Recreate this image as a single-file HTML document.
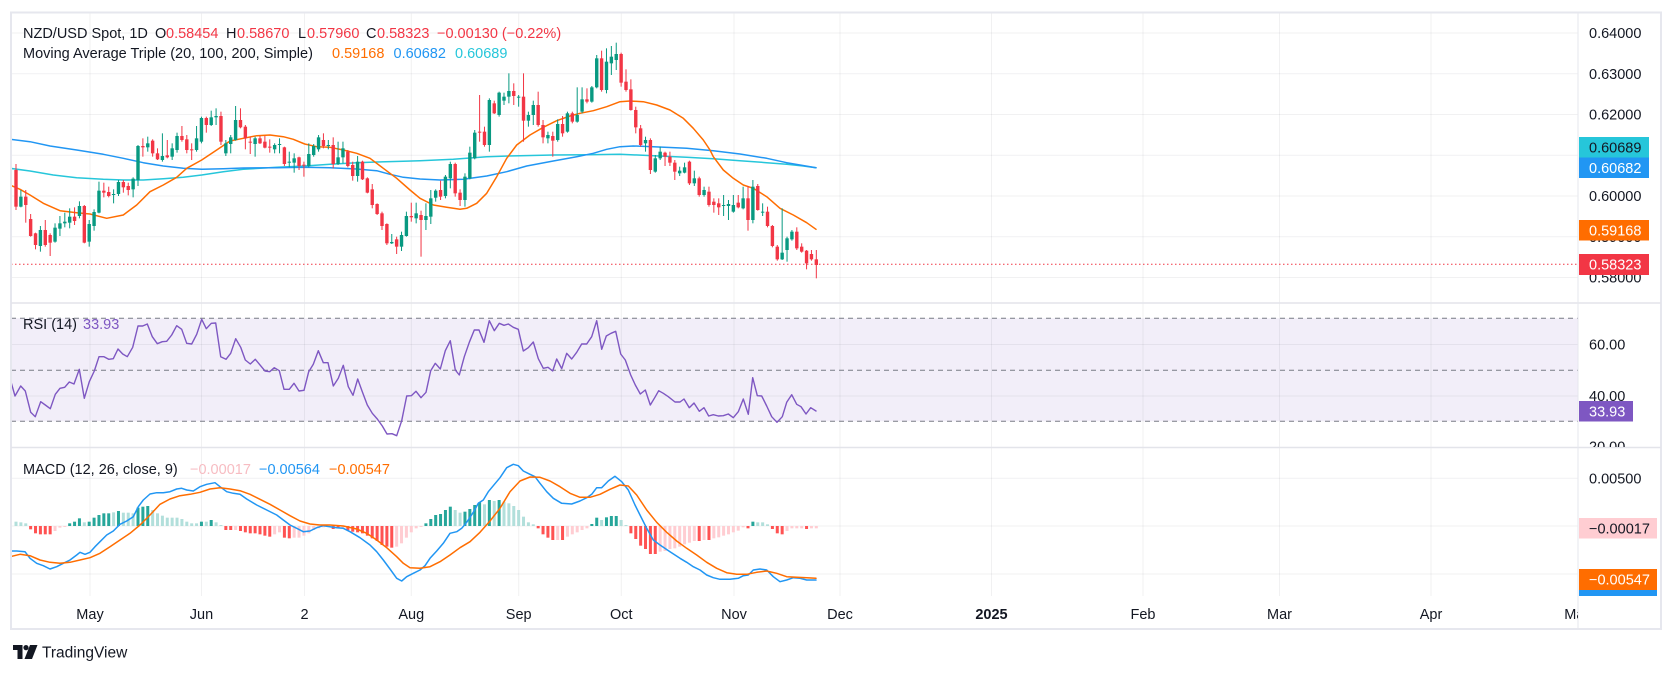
<!DOCTYPE html>
<html><head><meta charset="utf-8">
<style>
html,body{margin:0;padding:0;background:#fff;}
svg{display:block;font-family:"Liberation Sans",sans-serif;}
</style></head>
<body>
<svg id="c" width="1674" height="674" viewBox="0 0 1674 674" xmlns="http://www.w3.org/2000/svg">
<defs>
<clipPath id="pp"><rect x="11" y="12" width="1567" height="291"/></clipPath>
<clipPath id="rp"><rect x="11" y="303" width="1567" height="144"/></clipPath>
<clipPath id="mp"><rect x="11" y="448" width="1567" height="148"/></clipPath>
<clipPath id="rax"><rect x="1578" y="304" width="84" height="143"/></clipPath>
<clipPath id="tax"><rect x="11" y="596" width="1567" height="33"/></clipPath>
</defs>
<rect width="1674" height="674" fill="#fff"/>
<!-- RSI band -->
<rect x="11" y="318.3" width="1567" height="103" fill="#f2eef9"/>
<g id="grid"></g>
<!-- RSI dashed -->
<g stroke="#787b86" stroke-width="1" stroke-dasharray="5,4">
<line x1="11" y1="318.3" x2="1578" y2="318.3"/>
<line x1="11" y1="370.3" x2="1578" y2="370.3"/>
<line x1="11" y1="421.3" x2="1578" y2="421.3"/>
</g>
<g id="price" clip-path="url(#pp)"></g>
<line x1="11" y1="264.3" x2="1578" y2="264.3" stroke="#f23645" stroke-width="1" stroke-dasharray="1.5,2.5"/>
<g id="rsi" clip-path="url(#rp)"></g>
<g id="macd" clip-path="url(#mp)"></g>

<!-- frame & separators -->
<rect x="11" y="12.5" width="1650" height="616.5" fill="none" stroke="#e6e7ee" stroke-width="2"/>
<line x1="11" y1="303" x2="1661" y2="303" stroke="#e3e4ea" stroke-width="1.5"/>
<line x1="11" y1="447.5" x2="1661" y2="447.5" stroke="#e3e4ea" stroke-width="1.5"/>
<line x1="1578" y1="12" x2="1578" y2="629" stroke="#e6e7ee" stroke-width="1"/>

<g font-size="14.5" fill="#131722">
<!-- legend price -->
<text x="23" y="38.2">NZD/USD Spot, 1D</text>
<text x="155" y="38.2">O</text><text x="166" y="38.2" fill="#f23645">0.58454</text>
<text x="226" y="38.2">H</text><text x="237" y="38.2" fill="#f23645">0.58670</text>
<text x="298" y="38.2">L</text><text x="307" y="38.2" fill="#f23645">0.57960</text>
<text x="366" y="38.2">C</text><text x="377" y="38.2" fill="#f23645">0.58323</text>
<text x="437" y="38.2" fill="#f23645">−0.00130 (−0.22%)</text>
<text x="23" y="58.2">Moving Average Triple (20, 100, 200, Simple)</text>
<text x="332" y="58.2" fill="#ff6d00">0.59168</text>
<text x="393.5" y="58.2" fill="#2196f3">0.60682</text>
<text x="455" y="58.2" fill="#26c6da">0.60689</text>
<!-- RSI legend -->
<text x="23" y="329.2">RSI (14)</text>
<text x="83" y="329.2" fill="#7e57c2">33.93</text>
<!-- MACD legend -->
<text x="23" y="474.2">MACD (12, 26, close, 9)</text>
<text x="190" y="474.2" fill="#f7bcc2">−0.00017</text>
<text x="259" y="474.2" fill="#2196f3">−0.00564</text>
<text x="329" y="474.2" fill="#ff6d00">−0.00547</text>

<!-- price axis -->
<text x="1589" y="38.2">0.64000</text>
<text x="1589" y="79">0.63000</text>
<text x="1589" y="119.7">0.62000</text>
<text x="1589" y="160.5">0.61000</text>
<text x="1589" y="201.2">0.60000</text>
<text x="1589" y="242">0.59000</text>
<text x="1589" y="282.7">0.58000</text>
<rect x="1579" y="137" width="70" height="20.5" fill="#26c6da"/>
<text x="1589" y="152.4">0.60689</text>
<rect x="1579" y="157.5" width="70" height="20.5" fill="#2196f3"/>
<text x="1589" y="172.9" fill="#fff">0.60682</text>
<rect x="1579" y="220" width="70" height="20.5" fill="#ff6d00"/>
<text x="1589" y="235.4" fill="#fff">0.59168</text>
<rect x="1579" y="254" width="70" height="21" fill="#f23645"/>
<text x="1589" y="269.6" fill="#fff">0.58323</text>

<!-- RSI axis -->
<g clip-path="url(#rax)">
<text x="1589" y="349.7">60.00</text>
<text x="1589" y="401.2">40.00</text>
<text x="1589" y="451.7">20.00</text>
</g>
<rect x="1579" y="401" width="54" height="20.5" fill="#7e57c2"/>
<text x="1589" y="416.4" fill="#fff">33.93</text>

<!-- MACD axis -->
<text x="1589" y="483.4">0.00500</text>
<rect x="1579" y="585" width="78" height="11" fill="#2196f3"/>
<rect x="1579" y="518" width="78" height="20.5" fill="#ffcdd2"/>
<text x="1589" y="533.4">−0.00017</text>
<rect x="1579" y="569" width="78" height="21" fill="#ff6d00"/>
<text x="1589" y="584.6" fill="#fff">−0.00547</text>

<!-- time axis -->
<g text-anchor="middle" clip-path="url(#tax)">
<text x="90" y="619.2">May</text>
<text x="201.5" y="619.2">Jun</text>
<text x="304.5" y="619.2">2</text>
<text x="411.3" y="619.2">Aug</text>
<text x="518.7" y="619.2">Sep</text>
<text x="621.3" y="619.2">Oct</text>
<text x="734" y="619.2">Nov</text>
<text x="840" y="619.2">Dec</text>
<text x="991.5" y="619.2" font-weight="bold">2025</text>
<text x="1143" y="619.2">Feb</text>
<text x="1279.5" y="619.2">Mar</text>
<text x="1431" y="619.2">Apr</text>
<text x="1578" y="619.2">May</text>
</g>
</g>

<!-- TradingView logo -->
<g fill="#131722">
<path d="M13,645 H22.5 V659 H17.5 V650 H13 Z"/>
<circle cx="26" cy="647.6" r="2.6"/>
<path d="M30,645 H37.5 L32,659 H24.5 Z"/>
<text x="42" y="657.5" font-size="15.5">TradingView</text>
</g>
</svg>
<script>
(function(){
var NS="http://www.w3.org/2000/svg";
function el(p,t,a){var e=document.createElementNS(NS,t);for(var k in a)e.setAttribute(k,a[k]);p.appendChild(e);return e;}
function conv(arr,x0,y0){var r=[];for(var i=0;i<arr.length;i+=2)r.push([x0+arr[i]/3,y0+arr[i+1]/3]);return r;}
function poly(g,pts,col,w){el(g,'polyline',{points:pts.map(function(p){return p[0].toFixed(1)+','+p[1].toFixed(1);}).join(' '),fill:'none',stroke:col,'stroke-width':w,'stroke-linejoin':'round','stroke-linecap':'round'});}

// grid
var grid=document.getElementById('grid');
var gc='rgba(42,46,57,0.065)';
[90,201.5,304.5,411.3,518.7,621.3,734,840,991.5,1143,1279.5,1431].forEach(function(x){el(grid,'line',{x1:x,y1:13,x2:x,y2:596,stroke:gc,'stroke-width':1});});
for(var k=0;k<7;k++){var y=33+k*40.75;el(grid,'line',{x1:11,y1:y,x2:1578,y2:y,stroke:gc,'stroke-width':1});}
[344.5,396].forEach(function(y){el(grid,'line',{x1:11,y1:y,x2:1578,y2:y,stroke:gc,'stroke-width':1});});
[478.3,526,574].forEach(function(y){el(grid,'line',{x1:11,y1:y,x2:1578,y2:y,stroke:gc,'stroke-width':1});});

// MAs
var price=document.getElementById('price');
var O6=[0,285,30,298,60,315,100,340,150,362,200,368,240,372,290,385,340,375,380,345,420,305,460,285,500,262,530,235,575,210,620,180,660,153,700,145,740,137,780,135,820,140,850,148,884,162,920,170,960,172,1000,180,1040,190,1080,205,1120,235,1160,265,1200,300];
var O7=[0,505,40,525,80,532,120,538,140,535,170,520,200,490,230,440,260,385,290,345,330,315,370,292,410,272,450,258,480,250,520,242,560,230,600,215,630,213,670,215,710,225,750,240,790,265,820,295,850,330,870,360,880,380,910,420,940,445,970,465,1000,475,1040,500,1080,535,1120,555,1160,578,1188,598];
var B6=[0,148,60,155,120,168,200,180,280,193,340,205,400,218,460,228,520,235,575,238,640,236,700,234,800,233,884,232,960,233,1040,237,1100,242,1140,253,1180,262];
var B7=[0,447,60,450,130,448,200,438,260,425,320,408,400,393,470,380,520,370,560,358,600,350,640,348,700,350,800,355,880,362,960,372,1040,385,1100,398,1140,405,1188,413];
var C6=[0,235,60,243,130,255,200,263,280,268,340,270,400,270,460,266,520,262,575,255,640,245,700,238,800,232,884,228,960,223,1040,218,1100,216,1180,214];
var C7=[0,392,100,388,200,380,300,377,400,375,500,374,600,373,700,377,800,382,880,386,960,392,1040,398,1100,403,1150,408,1188,413];
poly(price,conv(C6,10,90).concat(conv(C7,420,30)),'#26c6da',1.5);
poly(price,conv(B6,10,90).concat(conv(B7,420,30)),'#2196f3',1.5);
poly(price,conv(O6,10,90).concat(conv(O7,420,30)),'#ff6d00',1.5);

// candles
var A=[[0,240,350,222,360],[1,320,350,300,352],[0,320,345,300,398],[0,387,438,372,440],[0,430,465,428,478],[1,420,468,408,485],[0,420,465,390,470],[0,435,458,430,498],[1,413,455,400,458],[1,400,416,378,438],[1,395,400,368,412],[1,380,398,355,415],[0,380,393,352,405],[1,348,378,334,385],[0,348,458,345,460],[1,402,455,390,470],[1,366,408,358,422],[1,302,368,275,370],[0,302,308,278,322],[0,306,318,290,322],[1,312,315,298,340],[1,276,312,270,318],[0,276,292,270,308],[0,288,300,278,316],[1,266,298,262,322],[1,168,270,165,288],[0,168,172,145,200],[1,160,172,140,185],[0,152,190,148,200],[0,190,208,175,210],[1,198,210,130,215],[0,196,202,150,205],[1,175,200,160,210],[1,138,180,128,188],[0,138,150,108,155],[0,148,180,135,190],[0,178,180,160,210],[1,145,180,108,185],[1,84,155,80,160],[0,84,105,80,128],[1,82,105,62,108],[1,78,82,55,105],[0,78,155,65,165],[1,160,190,150,198],[1,142,162,135,190],[1,90,150,48,152],[0,90,112,55,115],[0,110,145,105,178],[0,155,158,140,192],[1,145,162,140,200],[0,145,160,138,162],[0,155,173,138,175],[0,170,173,148,188],[1,165,178,160,190],[1,162,165,145,190],[0,172,222,170,228],[1,215,218,185,232],[1,205,218,190,248],[0,202,228,200,240],[0,224,226,215,260],[1,192,228,160,232],[1,168,195,162,200],[1,142,178,135,185],[0,150,168,130,175],[1,165,167,150,178],[0,165,222,142,235],[1,202,222,155,225],[1,175,202,155,220],[0,185,228,180,232],[0,225,258,215,272],[1,215,258,198,275],[0,215,268,212,270],[0,265,308,262,310],[0,298,345,282,355],[0,342,372,340,375],[0,370,408,365,420],[0,402,460,400,465],[1,456,460,432,462],[0,448,470,440,492],[1,435,470,425,483],[1,378,438,365,440],[0,378,382,338,395],[1,370,385,338,400],[0,375,390,362,500],[1,378,390,340,420]];
var B=[[1,505,560,480,582],[1,482,503,478,515],[0,480,500,452,510],[1,440,498,435,505],[1,402,445,395,475],[0,402,490,398,500],[0,488,510,478,528],[1,440,510,430,530],[1,368,445,350,448],[1,308,385,300,388],[0,305,307,195,335],[0,305,345,290,350],[1,210,345,205,365],[0,220,250,212,252],[1,188,255,185,260],[1,200,212,188,225],[1,183,200,130,220],[0,183,198,160,225],[1,200,202,195,230],[0,200,272,130,335],[1,255,272,245,290],[1,225,255,212,285],[0,225,285,185,290],[0,285,322,270,340],[1,315,325,305,340],[0,318,332,305,380],[1,282,330,268,335],[0,282,310,258,320],[1,250,305,245,308],[0,250,275,245,280],[1,255,275,172,278],[1,208,245,172,250],[0,208,215,175,220],[1,172,215,168,218],[1,85,172,75,175],[0,85,180,62,185],[1,95,180,55,190],[1,80,100,48,135],[1,72,90,38,120],[0,72,158,68,170],[0,155,180,118,185],[0,178,240,148,242],[0,240,292,230,310],[0,295,345,285,350],[1,330,340,320,365],[0,330,420,325,432],[1,385,425,375,428],[1,365,385,350,390],[0,368,380,365,408],[0,380,398,365,408],[0,398,425,390,450],[1,422,430,410,438],[1,412,428,398,430],[0,395,460,392,465],[1,445,460,422,468],[0,445,495,440,500],[1,480,495,470,500],[0,485,525,470,530],[0,515,525,505,548],[0,520,532,505,555],[1,525,528,495,558],[1,522,528,510,570],[1,525,545,495,548],[0,518,532,495,535],[1,505,535,470,538],[0,505,570,468,602],[1,470,570,450,580],[0,468,540,462,542],[1,545,548,520,558],[0,545,588,530,592],[0,588,648,585,652],[0,650,688,645,692],[1,668,688,535,690],[1,625,660,620,695],[1,605,628,600,632],[0,605,655,592,660],[0,650,665,640,668],[0,662,700,660,718],[0,672,688,660,692],[0,688,705,660,745]];
var cs=[];
A.forEach(function(d){cs.push([d[0],90+d[1]/3,90+d[2]/3,90+d[3]/3,90+d[4]/3]);});
B.forEach(function(d){cs.push([d[0],30+d[1]/3,30+d[2]/3,30+d[3]/3,30+d[4]/3]);});
cs.forEach(function(d,i){var x=16+i*4.88;var col=d[0]?'#089981':'#f23645';
 el(price,'rect',{x:(x-0.5).toFixed(2),y:d[3].toFixed(2),width:1,height:(d[4]-d[3]).toFixed(2),fill:col});
 el(price,'rect',{x:(x-1.7).toFixed(2),y:d[1].toFixed(2),width:3.4,height:Math.max(1,d[2]-d[1]).toFixed(2),fill:col});
});

// RSI
var rsi=document.getElementById('rsi');
var R8=[0,235,15,288,32,258,46,273,62,337,76,350,92,305,106,315,121,326,136,283,150,265,164,262,178,246,192,252,208,208,223,295,238,245,253,213,267,170,282,170,296,178,310,176,324,147,338,162,352,170,368,142,384,78,398,78,412,72,427,110,442,131,457,125,470,124,485,105,500,77,515,88,530,130,545,132,560,103,575,58,589,86,604,70,617,69,632,170,648,178,662,160,677,116,692,142,706,180,721,192,736,178,751,196,765,213,779,215,793,203,808,212,822,268,838,268,852,250,867,273,882,271,896,215,910,193,925,152,940,188,954,188,970,258,985,235,1000,196,1015,260,1029,286,1043,237,1057,275,1072,315,1087,340,1102,357,1117,378,1131,402,1146,401,1160,407,1175,362,1190,288,1204,287,1218,274,1233,293,1248,277];
var R9=[32,212,46,190,61,207,76,152,91,122,106,210,118,225,133,170,148,127,163,90,177,90,192,127,208,62,223,92,238,70,252,76,265,72,280,82,295,88,310,153,325,143,340,126,355,176,370,205,384,202,398,213,410,177,425,206,440,160,455,177,470,157,485,132,500,132,515,110,530,62,545,148,559,108,573,100,587,94,602,162,616,180,632,225,646,255,661,282,676,270,691,315,706,290,716,272,730,280,745,290,765,306,780,306,792,297,808,323,822,309,838,334,852,323,866,348,880,344,895,348,910,347,925,342,940,353,955,335,970,297,985,343,998,233,1012,287,1025,288,1040,318,1055,350,1071,367,1087,350,1100,307,1115,284,1130,313,1143,320,1158,342,1172,323,1188,333];
poly(rsi,conv(R8,10,300).concat(conv(R9,420,300)),'#7e57c2',1.4);

// MACD
var macd=document.getElementById('macd');
var cols={G:'#26a69a',g:'#b2dfdb',R:'#ff5252',r:'#ffcdd2'};
var H="g230 g232 g235 R253 R265 R268 R268 R268 r258 r248 r245 G235 G230 G220 g232 G230 G218 G210 G205 G205 g202 G198 g203 g203 g205 G188 G185 G183 g195 g205 g212 g218 g218 g218 g222 g230 g235 g235 G230 g230 G225 g232 g240 R255 R255 r255 R258 R262 R265 R265 R268 R272 R275 r268 r262 R278 R280 r278 r278 r272 r265 r255 r250 r247 r245 R252 R250 r248 R256 R260 R262 R265 R272 R280 R288 R300 R305 R308 r305 r295 r278 r262 r250 r245 G235 G222 G210 G207 G195 G185 g195 g203 G200 G192 G180 G172 g178 G165 g168 G165 g170 g175 g183 g195 g215 g232 g238 R250 R268 R278 R285 r285 R285 r275 r268 r262 r255 r250 G237 G218 g225 G217 G213 G213 g225 g240 R265 R282 R302 R312 R327 R327 r320 r318 r312 r310 r305 r298 r293 r288 R288 r285 R285 r280 r277 r272 r268 r262 r257 r247 R250 G230 g232 g232 g238 R252 R265 R268 r258 r250 r250 r250 R252 r250 r250".split(' ');
var zero=526;
H.forEach(function(s,i){var c=cols[s[0]];var y=445+parseInt(s.slice(1),10)/3;var x=16+i*4.88;
 var y1=Math.min(y,zero),y2=Math.max(y,zero);if(y2-y1<1)y2=y1+1;
 el(macd,'rect',{x:(x-1.5).toFixed(2),y:y1.toFixed(2),width:3,height:(y2-y1).toFixed(2),fill:c});});
var MB10=[0,318,20,318,45,320,60,340,80,355,100,362,120,372,140,365,160,355,180,345,200,330,210,322,225,328,240,322,255,305,270,290,290,270,310,258,330,238,350,228,370,215,385,185,400,165,420,147,440,143,460,143,480,140,500,132,515,130,530,135,550,138,570,125,590,118,615,113,630,125,650,140,670,145,690,148,710,162,740,180,770,195,800,210,820,225,840,240,860,250,880,260,900,258,920,248,940,242,960,245,980,248,1000,250,1020,260,1050,278,1080,300,1100,320,1120,345,1140,372,1160,400,1175,408,1190,395,1210,385,1230,375];
var MB11=[15,362,30,340,50,318,70,295,90,265,110,260,125,250,140,232,160,202,175,175,190,165,205,140,220,122,240,98,260,68,280,58,295,62,310,78,330,88,345,95,360,115,380,140,400,160,425,175,455,177,480,168,500,158,515,148,530,128,545,128,565,108,585,94,605,110,625,135,645,180,660,210,680,250,700,285,720,300,750,320,780,340,800,352,820,365,840,375,860,390,880,398,900,403,930,403,955,400,970,392,985,390,1000,375,1020,372,1040,375,1060,395,1080,410,1100,405,1120,398,1140,400,1160,405,1188,405];
var MO10=[0,335,30,328,60,332,90,345,120,352,150,355,180,352,210,345,240,338,270,325,300,305,330,285,360,265,390,240,420,210,450,178,480,162,510,152,540,148,570,142,600,132,630,128,660,132,690,137,720,148,750,163,780,178,810,195,840,212,870,228,900,237,930,240,960,240,1000,243,1040,252,1070,265,1100,285,1130,308,1160,335,1180,355,1200,368,1230,370];
var MO11=[30,365,60,350,90,330,120,308,150,290,180,262,210,228,240,190,270,140,300,108,330,96,360,97,390,108,420,125,450,145,480,157,510,157,540,148,570,133,600,120,625,123,650,150,680,195,710,232,740,262,770,288,800,310,830,330,860,352,890,370,920,383,950,388,980,388,1010,382,1040,378,1070,385,1100,395,1130,397,1160,398,1188,400];
poly(macd,conv(MB10,10,445).concat(conv(MB11,420,445)),'#2196f3',1.5);
poly(macd,conv(MO10,10,445).concat(conv(MO11,420,445)),'#ff6d00',1.5);
})();
</script>
</body></html>
